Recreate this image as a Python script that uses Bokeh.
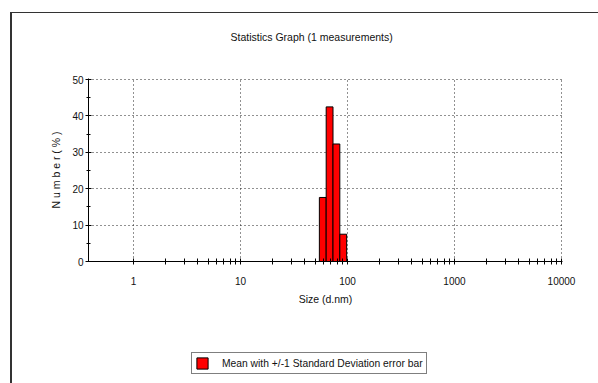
from bokeh.plotting import figure
from bokeh.layouts import column
from bokeh.models import FixedTicker, Legend, LegendItem, Range1d, Title
from bokeh.embed import file_html
from bokeh.resources import INLINE

# ---- data -------------------------------------------------------------
size_dnm = [58.77, 68.06, 78.82, 91.28]          # bin centres (d.nm)
number_pct = [17.6, 42.5, 32.3, 7.5]             # Number (%)
bin_ratio = 68.06 / 58.77                        # geometric bin width

x_ticks = [1, 10, 100, 1000, 10000]
x_tick_labels = ["1", "10", "100", "1000", "10000"]
x_minor = [m * d for d in (1, 10, 100, 1000) for m in range(2, 10)]
y_ticks = [0, 10, 20, 30, 40, 50]
y_minor = [5, 15, 25, 35, 45]

title_text = "Statistics Graph (1 measurements)"
x_label = "Size (d.nm)"
y_label = "N u m b e r ( % )"
legend_text = "Mean with +/-1 Standard Deviation error bar"

FONT = "Liberation Sans"
INK = "#111111"
BAR_FILL = "#ff0000"

half = bin_ratio ** 0.5
lefts = [s / half for s in size_dnm]
rights = [s * half for s in size_dnm]

# ---- main chart ---------------------------------------------------------
p = figure(width=586, height=317, x_axis_type="log",
           x_range=Range1d(0.38, 10220), y_range=Range1d(0, 50.3),
           output_backend="svg", toolbar_location=None,
           min_border_left=76, min_border_right=36,
           min_border_top=65, min_border_bottom=69)
p.outline_line_color = None
p.background_fill_color = "white"
p.border_fill_color = "white"

p.title.text = title_text
p.title.align = "left"
p.title.offset = 142
p.title.standoff = 0
p.title.text_font = FONT
p.title.text_font_size = "10.5px"
p.title.text_font_style = "normal"
p.title.text_color = INK
# empty spacer between the title and the plot frame
p.add_layout(Title(text=" ", standoff=22, text_font_size="10.5px"), "above")

xt = FixedTicker(ticks=x_ticks, minor_ticks=x_minor)
yt = FixedTicker(ticks=y_ticks, minor_ticks=y_minor)

ax = p.xaxis[0]
ax.ticker = xt
ax.major_label_overrides = {t: l for t, l in zip(x_ticks, x_tick_labels)}
ay = p.yaxis[0]
ay.ticker = yt

for a in (ax, ay):
    a.axis_line_color = "black"
    a.major_tick_line_color = "black"
    a.minor_tick_line_color = "black"
    a.major_label_text_font = FONT
    a.major_label_text_font_size = "10px"
    a.major_label_text_color = INK
    a.axis_label_text_font = FONT
    a.axis_label_text_font_size = "10.5px"
    a.axis_label_text_font_style = "normal"
    a.axis_label_text_color = INK

ax.major_tick_in = 3
ax.major_tick_out = 3
ax.minor_tick_in = 3
ax.minor_tick_out = 3
ax.major_label_standoff = 12
ax.axis_label = x_label
ax.axis_label_standoff = 5

ay.major_tick_in = 3
ay.major_tick_out = 3
ay.minor_tick_in = 2
ay.minor_tick_out = 2
ay.major_label_standoff = 2
ay.axis_label = y_label
ay.axis_label_standoff = 7

p.xgrid.ticker = xt
p.ygrid.ticker = yt
for g in (p.xgrid, p.ygrid):
    g.grid_line_color = "#222222"
    g.grid_line_dash = "1 3"
    g.grid_line_width = 1

p.quad(left=lefts, right=rights, bottom=0, top=number_pct,
       fill_color=BAR_FILL, line_color="black", line_width=1)

# ---- legend strip ---------------------------------------------------------
p2 = figure(width=586, height=53, output_backend="svg", toolbar_location=None,
            x_range=Range1d(0, 1), y_range=Range1d(0, 1),
            x_axis_location=None, y_axis_location=None,
            min_border_left=0, min_border_right=0,
            min_border_top=0, min_border_bottom=0)
p2.grid.visible = False
p2.outline_line_color = None
p2.background_fill_color = "white"
p2.border_fill_color = "white"
# same series as the chart; it lies outside this strip's ranges, only its key shows
key = p2.quad(left=lefts, right=rights, bottom=0, top=number_pct,
              fill_color=BAR_FILL, line_color="black", line_width=1)

legend = Legend(items=[LegendItem(label=legend_text, renderers=[key])],
                location=(103, 9), orientation="vertical",
                padding=3, spacing=0, margin=0,
                glyph_width=14, glyph_height=14, label_height=14,
                label_standoff=13,
                label_text_font=FONT, label_text_font_size="10.3px",
                label_text_color=INK,
                border_line_color="black", border_line_width=1,
                background_fill_color="white", background_fill_alpha=1)
p2.add_layout(legend)

page = column(p, p2, spacing=0)
page.styles = {"margin-left": "10px", "margin-top": "12px",
               "border-left": "2px solid #333333",
               "border-top": "1px solid #333333"}

open("out.html", "w").write(file_html(page, INLINE))
